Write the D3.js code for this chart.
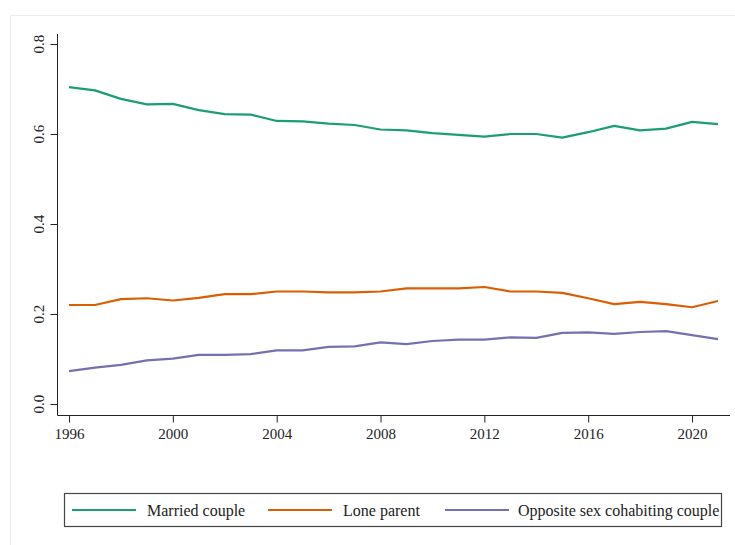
<!DOCTYPE html>
<html>
<head>
<meta charset="utf-8">
<script src="https://cdn.jsdelivr.net/npm/d3@7"></script>
<style>
  html, body { margin: 0; padding: 0; background: #fff; }
  svg { display: block; }
  svg text { font-family: "Liberation Serif", "Times New Roman", serif !important; fill: #222; }
</style>
</head>
<body>
<svg id="chart" width="735" height="545"></svg>
<script>
// Share of households by family type, 1996-2021
const years = d3.range(1996, 2022);
const seriesNames = ["Married couple", "Lone parent", "Opposite sex cohabiting couple"];
const seriesColors = ["#1b9e77", "#d95f02", "#7570b3"];

const marriedCouple = [0.704, 0.697, 0.678, 0.666, 0.667, 0.653, 0.644, 0.643, 0.629, 0.628,
                       0.623, 0.620, 0.610, 0.608, 0.602, 0.598, 0.594, 0.600, 0.600, 0.592,
                       0.604, 0.618, 0.608, 0.612, 0.627, 0.622];
const loneParent = [0.220, 0.220, 0.233, 0.235, 0.230, 0.236, 0.244, 0.244, 0.250, 0.250,
                    0.248, 0.248, 0.250, 0.257, 0.257, 0.257, 0.260, 0.250, 0.250, 0.247,
                    0.235, 0.222, 0.227, 0.222, 0.215, 0.229];
const cohabiting = [0.073, 0.081, 0.087, 0.097, 0.101, 0.109, 0.109, 0.111, 0.119, 0.119,
                    0.127, 0.128, 0.137, 0.133, 0.140, 0.143, 0.143, 0.148, 0.147, 0.158,
                    0.159, 0.156, 0.160, 0.162, 0.153, 0.144];
const seriesValues = [marriedCouple, loneParent, cohabiting];

const xTicks = [1996, 2000, 2004, 2008, 2012, 2016, 2020];
const yTicks = [0.0, 0.2, 0.4, 0.6, 0.8];

const svg = d3.select("#chart");

// faint outer frame of the graph region
svg.append("rect")
  .attr("x", 10.5).attr("y", 15.5)
  .attr("width", 800).attr("height", 600)
  .attr("fill", "none").attr("stroke", "#e9eff0").attr("stroke-width", 1);

const x = d3.scaleLinear().domain([1996, 2021]).range([69, 718]);
const y = d3.scaleLinear().domain([0, 0.8]).range([404, 44]);

const axisX = 57.5, axisY = 415.5;
const axisColor = "#222";
const tickFont = 15;

// y axis
const gy = svg.append("g").attr("transform", `translate(${axisX},0)`)
  .call(d3.axisLeft(y).tickValues(yTicks).tickSize(7).tickFormat(d3.format(".1f")));
gy.select(".domain").remove();
gy.selectAll(".tick").attr("transform", null);
gy.selectAll(".tick line").attr("stroke", axisColor)
  .attr("y1", d => y(d) + 0.5).attr("y2", d => y(d) + 0.5);
gy.selectAll(".tick text")
  .attr("font-size", tickFont)
  .attr("x", -19).attr("y", d => y(d)).attr("dy", "0.35em")
  .attr("text-anchor", "middle")
  .attr("transform", d => `rotate(-90, -19, ${y(d)})`);
svg.append("line").attr("x1", axisX).attr("x2", axisX).attr("y1", 34).attr("y2", axisY)
  .attr("stroke", axisColor).attr("stroke-width", 1);

// x axis
const gx = svg.append("g").attr("transform", `translate(0,${axisY})`)
  .call(d3.axisBottom(x).tickValues(xTicks).tickSize(7).tickPadding(6).tickFormat(d3.format("d")));
gx.select(".domain").remove();
gx.selectAll(".tick line").attr("stroke", axisColor);
gx.selectAll(".tick text").attr("font-size", tickFont);
svg.append("line").attr("x1", axisX).attr("x2", 730).attr("y1", axisY).attr("y2", axisY)
  .attr("stroke", axisColor).attr("stroke-width", 1);

// series lines
const line = d3.line().x((d, i) => x(years[i])).y(d => y(d));
seriesValues.forEach((vals, k) => {
  svg.append("path")
    .datum(vals)
    .attr("d", line)
    .attr("fill", "none")
    .attr("stroke", seriesColors[k])
    .attr("stroke-width", 2.2)
    .attr("stroke-linejoin", "round");
});

// legend
const legend = svg.append("g");
legend.append("rect")
  .attr("x", 64.5).attr("y", 493.5).attr("width", 657).attr("height", 33)
  .attr("fill", "#fff").attr("stroke", "#444").attr("stroke-width", 1.2);
const legendItems = [
  { swatch: 72, text: 147 },
  { swatch: 268, text: 343 },
  { swatch: 445, text: 518 }
];
legendItems.forEach((it, k) => {
  legend.append("line")
    .attr("x1", it.swatch).attr("x2", it.swatch + 64)
    .attr("y1", 510).attr("y2", 510)
    .attr("stroke", seriesColors[k]).attr("stroke-width", 2.2);
  legend.append("text")
    .attr("x", it.text).attr("y", 510).attr("dy", "0.35em")
    .attr("font-size", 16)
    .text(seriesNames[k]);
});
</script>
</body>
</html>
